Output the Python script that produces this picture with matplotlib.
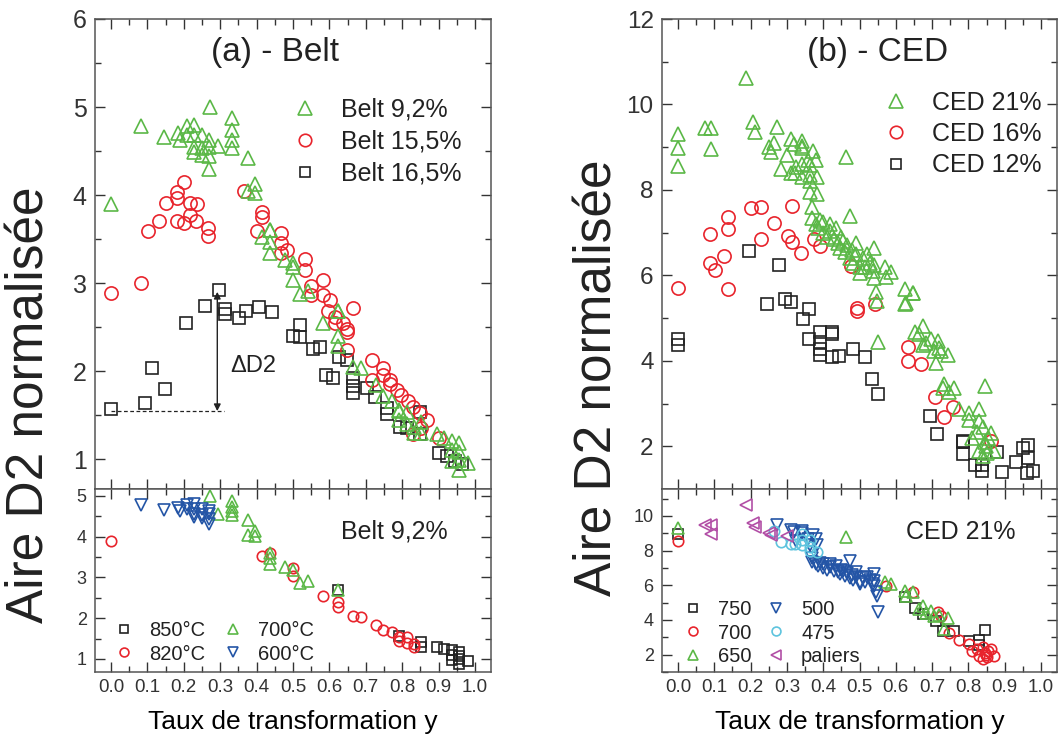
import matplotlib
matplotlib.use("Agg")
import matplotlib.pyplot as plt
from matplotlib.ticker import MultipleLocator
import numpy as np

plt.rcParams['font.family'] = ['Liberation Sans', 'DejaVu Sans']
plt.rcParams['text.color'] = '#222222'

# ---------------- Data: (a) Belt ----------------
# Belt 9,2% split by temperature
b850_x = [0.623, 0.79, 0.853, 0.853, 0.895, 0.916, 0.936, 0.936, 0.936, 0.957, 0.957, 0.957, 0.957, 0.98]
b850_y = [2.68, 1.56, 1.42, 1.30, 1.29, 1.24, 1.21, 1.10, 0.98, 1.18, 1.08, 0.99, 0.88, 0.95]
b820_x = [0.0, 0.416, 0.437, 0.501, 0.501, 0.583, 0.624, 0.624, 0.666, 0.687, 0.728, 0.748, 0.771,
          0.791, 0.791, 0.812, 0.812, 0.832, 0.832]
b820_y = [3.9, 3.52, 3.6, 3.23, 3.04, 2.55, 2.40, 2.28, 2.05, 2.03, 1.84, 1.72, 1.66,
          1.55, 1.44, 1.53, 1.40, 1.37, 1.30]
b700_x = [0.272, 0.293, 0.333, 0.333, 0.333, 0.333, 0.375, 0.375, 0.396, 0.396, 0.437, 0.437, 0.437,
          0.478, 0.499, 0.519, 0.542, 0.623]
b700_y = [5.0, 4.56, 4.87, 4.74, 4.62, 4.54, 4.42, 4.05, 4.13, 4.02, 3.60, 3.47, 3.34,
          3.26, 3.18, 2.87, 2.91, 2.68]
b600_x = [0.082, 0.146, 0.185, 0.19, 0.208, 0.208, 0.229, 0.229, 0.229, 0.229, 0.249, 0.249, 0.249,
          0.27, 0.27, 0.27, 0.27]
b600_y = [4.78, 4.66, 4.70, 4.63, 4.78, 4.68, 4.80, 4.68, 4.55, 4.49, 4.68, 4.53, 4.46,
          4.62, 4.44, 4.30, 4.55]

b155_x = [0.0, 0.082, 0.101, 0.133, 0.151, 0.182, 0.182, 0.182, 0.2, 0.2, 0.217, 0.217, 0.235, 0.234,
          0.267, 0.267, 0.366, 0.4, 0.416, 0.416, 0.466, 0.466, 0.466, 0.484, 0.533, 0.533, 0.549,
          0.549, 0.583, 0.583, 0.602, 0.597, 0.615, 0.615, 0.638, 0.647, 0.647, 0.666, 0.647, 0.716,
          0.716, 0.748, 0.748, 0.766, 0.766, 0.785, 0.798, 0.817, 0.831, 0.849, 0.867, 0.829, 0.853, 0.9]
b155_y = [2.89, 3.0, 3.59, 3.70, 3.91, 4.03, 3.97, 3.71, 4.15, 3.68, 3.91, 3.77, 3.90, 3.71,
          3.63, 3.53, 4.05, 3.59, 3.81, 3.75, 3.57, 3.46, 3.34, 3.37, 3.27, 3.15, 2.97,
          2.86, 3.03, 2.86, 2.81, 2.68, 2.61, 2.55, 2.55, 2.48, 2.44, 2.72, 2.24, 2.12,
          1.90, 2.04, 1.95, 1.90, 1.85, 1.79, 1.73, 1.66, 1.59, 1.52, 1.44, 1.28, 1.35, 1.24]

b165_x = [0.0, 0.093, 0.112, 0.148, 0.205, 0.258, 0.297, 0.313, 0.313, 0.352, 0.37, 0.407, 0.443,
          0.501, 0.519, 0.519, 0.556, 0.574, 0.59, 0.611, 0.627, 0.647, 0.666, 0.666, 0.666, 0.702,
          0.725, 0.757, 0.757, 0.794, 0.812, 0.849, 0.849, 0.902, 0.922, 0.944, 0.963]
b165_y = [1.57, 1.64, 2.03, 1.80, 2.55, 2.74, 2.92, 2.71, 2.65, 2.60, 2.68, 2.73, 2.67,
          2.40, 2.52, 2.39, 2.25, 2.27, 1.96, 1.92, 2.16, 2.12, 1.92, 1.83, 1.75, 1.81,
          1.71, 1.58, 1.51, 1.37, 1.35, 1.53, 1.28, 1.07, 1.03, 0.98, 0.94]

# ---------------- Data: (b) CED ----------------
# CED 21% split by temperature
c750_x = [0.0, 0.626, 0.654, 0.674, 0.71, 0.729, 0.761, 0.802, 0.83, 0.83, 0.846]
c750_y = [8.97, 5.33, 4.68, 4.37, 3.94, 3.36, 3.36, 2.78, 2.87, 2.58, 3.40]
c700_x = [0.0, 0.573, 0.647, 0.715, 0.724, 0.747, 0.775, 0.802, 0.811, 0.825, 0.839, 0.83, 0.839,
          0.848, 0.855, 0.862, 0.852, 0.871, 0.845]
c700_y = [8.55, 5.97, 5.59, 4.46, 4.23, 3.26, 2.87, 2.62, 2.20, 2.33, 2.45, 1.90, 1.77,
          2.00, 2.20, 2.30, 1.85, 1.90, 2.10]
c650_x = [0.0, 0.462, 0.569, 0.587, 0.625, 0.665, 0.674, 0.683, 0.697, 0.706, 0.72, 0.743, 0.733,
          0.628, 0.646]
c650_y = [9.32, 8.78, 6.20, 6.07, 5.68, 4.62, 4.81, 4.42, 4.52, 4.23, 4.29, 4.13, 3.46,
          5.36, 5.59]
c500_x = [0.274, 0.312, 0.319, 0.326, 0.342, 0.342, 0.358, 0.364, 0.372, 0.381, 0.383, 0.37, 0.37,
          0.38, 0.385, 0.39, 0.40, 0.40, 0.41, 0.418, 0.42, 0.43, 0.436, 0.44, 0.445, 0.45, 0.454,
          0.46, 0.465, 0.473, 0.475, 0.48, 0.482, 0.49, 0.491, 0.5, 0.5, 0.51, 0.515, 0.52, 0.53,
          0.537, 0.541, 0.54, 0.54, 0.545, 0.548, 0.55]
c500_y = [9.47, 9.18, 9.07, 8.53, 9.15, 9.02, 8.69, 8.34, 8.91, 8.69, 8.30, 7.6, 7.35,
          7.2, 7.1, 7.3, 7.0, 7.25, 6.9, 7.2, 7.05, 6.85, 7.1, 6.75, 6.65, 6.9, 6.8,
          6.55, 6.7, 7.4, 6.4, 6.6, 6.3, 6.5, 6.75, 6.2, 6.05, 6.4, 6.2, 6.5, 6.3,
          6.1, 6.65, 6.25, 5.95, 5.6, 5.4, 4.45]
c475_x = [0.264, 0.285, 0.312, 0.323, 0.342, 0.342, 0.342, 0.363, 0.363, 0.363, 0.383]
c475_y = [9.1, 8.49, 8.39, 8.39, 8.97, 8.6, 8.3, 8.59, 8.2, 7.95, 7.9]
cpal_x = [0.074, 0.092, 0.092, 0.186, 0.207, 0.213, 0.251, 0.255, 0.30]
cpal_y = [9.46, 9.46, 8.95, 10.62, 9.60, 9.36, 9.01, 8.88, 8.82]

c16_x = [0.0, 0.088, 0.088, 0.102, 0.127, 0.138, 0.138, 0.138, 0.202, 0.228, 0.228, 0.265, 0.303,
         0.315, 0.315, 0.34, 0.376, 0.392, 0.477, 0.494, 0.494, 0.543, 0.633, 0.633, 0.669, 0.709,
         0.733, 0.758, 0.862]
c16_y = [5.71, 6.96, 6.30, 6.12, 6.45, 7.37, 7.08, 5.67, 7.57, 7.59, 6.86, 7.22, 6.93,
         7.62, 6.79, 6.53, 6.85, 6.69, 6.22, 5.24, 5.16, 5.32, 4.32, 3.99, 3.93, 3.15,
         2.69, 2.92, 2.12]
c12_x = [0.0, 0.0, 0.196, 0.245, 0.278, 0.294, 0.312, 0.343, 0.361, 0.361, 0.392, 0.392, 0.392, 0.392,
         0.425, 0.425, 0.425, 0.443, 0.482, 0.516, 0.535, 0.552, 0.695, 0.713, 0.784, 0.784, 0.784,
         0.819, 0.837, 0.837, 0.88, 0.892, 0.93, 0.949, 0.965, 0.965, 0.962, 0.979]
c12_y = [4.50, 4.38, 6.57, 5.34, 6.24, 5.45, 5.38, 4.97, 5.22, 4.52, 4.67, 4.44, 4.27, 4.13,
         4.67, 4.62, 4.09, 4.11, 4.27, 4.09, 3.58, 3.23, 2.72, 2.29, 2.13, 2.10, 1.82,
         1.57, 1.57, 1.43, 1.87, 1.40, 1.63, 1.96, 2.04, 1.73, 1.38, 1.41]

belt_temps = ['850°C', '820°C', '700°C', '600°C']
ced_temps = ['750', '700', '650', '500', '475', 'paliers']

GREEN = '#5BB847'
RED = '#E8242C'
BLACK = '#222222'
BLUE = '#2455A6'
CYAN = '#5EC4DE'
MAG = '#B24FA6'

W, H = 1059, 734
fig = plt.figure(figsize=(W / 100, H / 100), dpi=100)


def box(x0, y0, x1, y1):
    return [x0 / W, 1 - y1 / H, (x1 - x0) / W, (y1 - y0) / H]


axA = fig.add_axes(box(95, 19, 491, 489))
axA2 = fig.add_axes(box(95, 489, 491, 672))
axB = fig.add_axes(box(662, 19, 1057, 489))
axB2 = fig.add_axes(box(662, 489, 1057, 672))


def style(ax, ylab_size, xlabels):
    ax.set_xlim(-0.044, 1.044)
    ax.xaxis.set_major_locator(MultipleLocator(0.1))
    ax.xaxis.set_minor_locator(MultipleLocator(0.05))
    ax.tick_params(which='both', direction='in', top=True, right=True, colors='#333333')
    ax.tick_params(which='major', length=7, width=1.0)
    ax.tick_params(which='minor', length=4, width=1.0)
    ax.tick_params(axis='y', labelsize=ylab_size, pad=6)
    ax.tick_params(axis='x', labelsize=13.5, pad=5)
    if not xlabels:
        ax.tick_params(axis='x', labelbottom=False)
    for s in ax.spines.values():
        s.set_color('#555555')
        s.set_linewidth(1.1)


def sc(ax, x, y, m, c, ms, label=None, mew=1.2):
    ax.plot(x, y, linestyle='none', marker=m, markersize=ms, markerfacecolor='none',
            markeredgecolor=c, markeredgewidth=mew, label=label)


def px2ax(ax, px, py):
    # figure pixel (from top-left) -> axes fraction
    bb = ax.get_position()
    return ((px / W - bb.x0) / bb.width, ((1 - py / H) - bb.y0) / bb.height)


# ---- (a) top ----
belt92_x = b850_x + b820_x + b700_x + b600_x
belt92_y = b850_y + b820_y + b700_y + b600_y
sc(axA, b165_x, b165_y, 's', BLACK, 8.5)
sc(axA, b155_x, b155_y, 'o', RED, 9.5)
sc(axA, belt92_x, belt92_y, '^', GREEN, 10)
axA.set_ylim(0.66, 6)
axA.yaxis.set_major_locator(MultipleLocator(1))
axA.yaxis.set_minor_locator(MultipleLocator(0.5))
style(axA, 18, False)
axA.text(*px2ax(axA, 275, 52), '(a) - Belt', transform=axA.transAxes, ha='center', va='center',
         fontsize=24)
h1 = axA.plot([], [], linestyle='none', marker='^', ms=10, mfc='none', mec=GREEN, mew=1.2)[0]
h2 = axA.plot([], [], linestyle='none', marker='o', ms=9, mfc='none', mec=RED, mew=1.2)[0]
h3 = axA.plot([], [], linestyle='none', marker='s', ms=7, mfc='none', mec=BLACK, mew=1.2)[0]
axA.legend([h1, h2, h3], ['Belt 9,2%', 'Belt 15,5%', 'Belt 16,5%'], loc='upper left',
           bbox_to_anchor=px2ax(axA, 275, 80), frameon=False, fontsize=18, handlelength=1.0,
           handletextpad=0.95, labelspacing=0.32, borderpad=0.2)
# Delta D2 annotation
axA.plot([0.0, 0.31], [1.545, 1.545], linestyle='--', color=BLACK, linewidth=0.9, dashes=(3, 2))
axA.annotate('', xy=(0.292, 2.90), xytext=(0.292, 1.545),
             arrowprops=dict(arrowstyle='<|-|>', color=BLACK, lw=1.0, mutation_scale=10,
                             shrinkA=0, shrinkB=0))
axA.text(0.328, 2.06, 'ΔD2', fontsize=17, ha='left', va='center')

# ---- (a) bottom ----
sc(axA2, b850_x, b850_y, 's', BLACK, 6.5, belt_temps[0])
sc(axA2, b820_x, b820_y, 'o', RED, 7.5, belt_temps[1])
sc(axA2, b700_x, b700_y, '^', GREEN, 8, belt_temps[2])
sc(axA2, b600_x, b600_y, 'v', BLUE, 8, belt_temps[3])
axA2.set_ylim(0.68, 5.17)
axA2.yaxis.set_major_locator(MultipleLocator(1))
axA2.yaxis.set_minor_locator(MultipleLocator(0.5))
style(axA2, 13, True)
axA2.text(*px2ax(axA2, 448, 532), 'Belt 9,2%', transform=axA2.transAxes, ha='right', va='center',
          fontsize=18)
axA2.legend(loc='upper left', bbox_to_anchor=px2ax(axA2, 100, 607), ncol=2, frameon=False,
            fontsize=14.5, handlelength=1.0, handletextpad=0.75, columnspacing=0.85,
            labelspacing=0.22, markerscale=0.85, borderpad=0.2)
axA2.set_xlabel('Taux de transformation y', fontsize=19, labelpad=10)

# ---- (b) top ----
ced21_x = c750_x + c700_x + c650_x + c500_x + c475_x + cpal_x
ced21_y = c750_y + c700_y + c650_y + c500_y + c475_y + cpal_y
sc(axB, c12_x, c12_y, 's', BLACK, 8.5)
sc(axB, c16_x, c16_y, 'o', RED, 9.5)
sc(axB, ced21_x, ced21_y, '^', GREEN, 10)
axB.set_ylim(1, 12)
axB.yaxis.set_major_locator(MultipleLocator(2))
axB.yaxis.set_minor_locator(MultipleLocator(1))
style(axB, 17.5, False)
axB.text(*px2ax(axB, 878, 52), '(b) - CED', transform=axB.transAxes, ha='center', va='center',
         fontsize=24)
g1 = axB.plot([], [], linestyle='none', marker='^', ms=10, mfc='none', mec=GREEN, mew=1.2)[0]
g2 = axB.plot([], [], linestyle='none', marker='o', ms=9, mfc='none', mec=RED, mew=1.2)[0]
g3 = axB.plot([], [], linestyle='none', marker='s', ms=7, mfc='none', mec=BLACK, mew=1.2)[0]
axB.legend([g1, g2, g3], ['CED 21%', 'CED 16%', 'CED 12%'], loc='upper left',
           bbox_to_anchor=px2ax(axB, 866, 73), frameon=False, fontsize=18, handlelength=1.0,
           handletextpad=0.95, labelspacing=0.3, borderpad=0.2)

# ---- (b) bottom ----
sc(axB2, c750_x, c750_y, 's', BLACK, 6.5, ced_temps[0])
sc(axB2, c700_x, c700_y, 'o', RED, 7.5, ced_temps[1])
sc(axB2, c650_x, c650_y, '^', GREEN, 8, ced_temps[2])
sc(axB2, c500_x, c500_y, 'v', BLUE, 8, ced_temps[3])
sc(axB2, c475_x, c475_y, 'o', CYAN, 7.5, ced_temps[4])
sc(axB2, cpal_x, cpal_y, '<', MAG, 8, ced_temps[5])
axB2.set_ylim(1, 11.55)
axB2.yaxis.set_major_locator(MultipleLocator(2))
axB2.yaxis.set_minor_locator(MultipleLocator(1))
style(axB2, 13, True)
axB2.text(*px2ax(axB2, 1016, 532), 'CED 21%', transform=axB2.transAxes, ha='right', va='center',
          fontsize=18)
axB2.legend(loc='upper left', bbox_to_anchor=px2ax(axB2, 669, 586), ncol=2, frameon=False,
            fontsize=14.5, handlelength=1.0, handletextpad=0.75, columnspacing=0.7,
            labelspacing=0.22, markerscale=0.85, borderpad=0.2)
axB2.set_xlabel('Taux de transformation y', fontsize=19, labelpad=10)

# y labels
fig.text(30 / W, 1 - 405 / H, 'Aire D2 normalisée', rotation=90, ha='center', va='center',
         fontsize=37)
fig.text(598 / W, 1 - 378 / H, 'Aire D2 normalisée', rotation=90, ha='center', va='center',
         fontsize=37)

fig.savefig('out.png', dpi=100)
